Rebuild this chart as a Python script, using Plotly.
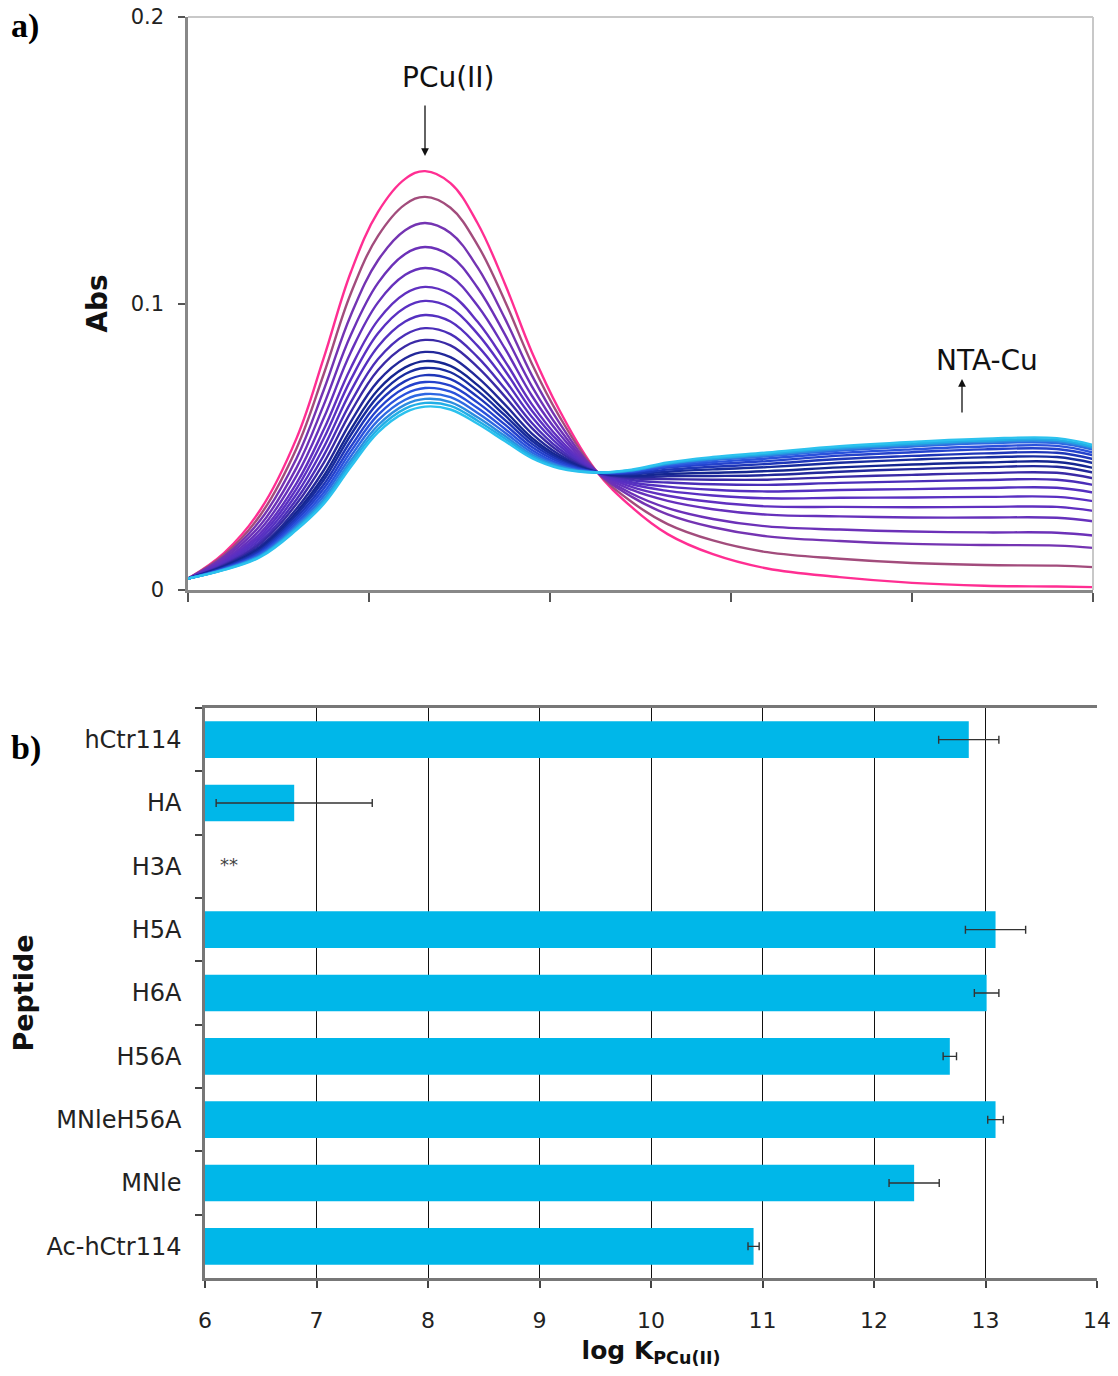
import plotly.graph_objects as go

# ---------------- Panel a: UV-vis titration spectra ----------------
wavelength = [300, 320, 340, 360, 375, 390, 405, 420, 431, 445, 460, 475,
              490, 505, 525, 545, 565, 590, 620, 660, 700, 740, 780, 800]

spectra = [
    [0.0040, 0.0130, 0.0280, 0.0530, 0.0810, 0.1110, 0.1320, 0.1435, 0.1462, 0.1420, 0.1280, 0.1070, 0.0830, 0.0630, 0.0420, 0.0290, 0.0195, 0.0125, 0.0075, 0.0045, 0.0025, 0.0015, 0.0012, 0.0010],
    [0.0040, 0.0123, 0.0262, 0.0495, 0.0754, 0.1036, 0.1236, 0.1346, 0.1372, 0.1334, 0.1204, 0.1010, 0.0790, 0.0608, 0.0419, 0.0308, 0.0230, 0.0173, 0.0132, 0.0109, 0.0094, 0.0087, 0.0085, 0.0080],
    [0.0040, 0.0117, 0.0244, 0.0460, 0.0698, 0.0960, 0.1151, 0.1256, 0.1281, 0.1246, 0.1126, 0.0949, 0.0749, 0.0585, 0.0418, 0.0326, 0.0264, 0.0219, 0.0187, 0.0171, 0.0161, 0.0157, 0.0155, 0.0147],
    [0.0040, 0.0111, 0.0227, 0.0427, 0.0646, 0.0891, 0.1072, 0.1173, 0.1197, 0.1166, 0.1055, 0.0893, 0.0711, 0.0564, 0.0417, 0.0337, 0.0286, 0.0248, 0.0222, 0.0211, 0.0204, 0.0201, 0.0200, 0.0190],
    [0.0040, 0.0105, 0.0212, 0.0399, 0.0600, 0.0831, 0.1004, 0.1100, 0.1124, 0.1095, 0.0992, 0.0844, 0.0678, 0.0546, 0.0416, 0.0350, 0.0311, 0.0282, 0.0263, 0.0257, 0.0253, 0.0253, 0.0252, 0.0240],
    [0.0040, 0.0101, 0.0199, 0.0373, 0.0560, 0.0776, 0.0942, 0.1035, 0.1058, 0.1032, 0.0936, 0.0800, 0.0648, 0.0529, 0.0415, 0.0360, 0.0329, 0.0307, 0.0292, 0.0290, 0.0289, 0.0290, 0.0290, 0.0276],
    [0.0040, 0.0097, 0.0189, 0.0354, 0.0529, 0.0735, 0.0896, 0.0986, 0.1009, 0.0985, 0.0894, 0.0767, 0.0626, 0.0517, 0.0414, 0.0369, 0.0346, 0.0330, 0.0320, 0.0322, 0.0323, 0.0325, 0.0325, 0.0310],
    [0.0040, 0.0093, 0.0179, 0.0335, 0.0498, 0.0695, 0.0850, 0.0937, 0.0960, 0.0937, 0.0852, 0.0734, 0.0604, 0.0505, 0.0414, 0.0376, 0.0361, 0.0350, 0.0344, 0.0349, 0.0352, 0.0356, 0.0357, 0.0340],
    [0.0040, 0.0090, 0.0170, 0.0317, 0.0470, 0.0656, 0.0806, 0.0891, 0.0914, 0.0893, 0.0813, 0.0703, 0.0583, 0.0493, 0.0413, 0.0384, 0.0375, 0.0369, 0.0367, 0.0374, 0.0379, 0.0384, 0.0385, 0.0367],
    [0.0040, 0.0087, 0.0162, 0.0301, 0.0444, 0.0622, 0.0768, 0.0851, 0.0873, 0.0854, 0.0778, 0.0676, 0.0565, 0.0483, 0.0413, 0.0390, 0.0387, 0.0385, 0.0385, 0.0395, 0.0402, 0.0408, 0.0409, 0.0390],
    [0.0040, 0.0084, 0.0153, 0.0284, 0.0418, 0.0588, 0.0729, 0.0809, 0.0831, 0.0813, 0.0742, 0.0648, 0.0546, 0.0473, 0.0412, 0.0395, 0.0397, 0.0398, 0.0401, 0.0413, 0.0422, 0.0429, 0.0430, 0.0410],
    [0.0040, 0.0082, 0.0147, 0.0272, 0.0398, 0.0561, 0.0699, 0.0777, 0.0799, 0.0782, 0.0715, 0.0626, 0.0531, 0.0465, 0.0412, 0.0399, 0.0405, 0.0409, 0.0415, 0.0428, 0.0438, 0.0445, 0.0447, 0.0426],
    [0.0040, 0.0080, 0.0142, 0.0263, 0.0384, 0.0542, 0.0676, 0.0754, 0.0775, 0.0760, 0.0695, 0.0610, 0.0521, 0.0459, 0.0412, 0.0404, 0.0413, 0.0421, 0.0429, 0.0444, 0.0455, 0.0463, 0.0464, 0.0443],
    [0.0040, 0.0078, 0.0137, 0.0253, 0.0368, 0.0521, 0.0653, 0.0729, 0.0750, 0.0736, 0.0674, 0.0594, 0.0510, 0.0453, 0.0411, 0.0407, 0.0420, 0.0430, 0.0440, 0.0457, 0.0468, 0.0477, 0.0479, 0.0457],
    [0.0040, 0.0076, 0.0132, 0.0244, 0.0354, 0.0501, 0.0631, 0.0706, 0.0726, 0.0713, 0.0654, 0.0578, 0.0499, 0.0447, 0.0411, 0.0411, 0.0427, 0.0439, 0.0450, 0.0469, 0.0481, 0.0491, 0.0492, 0.0470],
    [0.0040, 0.0075, 0.0128, 0.0235, 0.0340, 0.0484, 0.0611, 0.0684, 0.0705, 0.0692, 0.0635, 0.0563, 0.0489, 0.0441, 0.0411, 0.0413, 0.0432, 0.0446, 0.0459, 0.0478, 0.0491, 0.0501, 0.0503, 0.0480],
    [0.0040, 0.0073, 0.0124, 0.0227, 0.0328, 0.0467, 0.0592, 0.0664, 0.0684, 0.0673, 0.0618, 0.0550, 0.0480, 0.0436, 0.0411, 0.0416, 0.0437, 0.0453, 0.0467, 0.0487, 0.0501, 0.0512, 0.0513, 0.0490],
    [0.0040, 0.0072, 0.0120, 0.0221, 0.0317, 0.0452, 0.0575, 0.0647, 0.0667, 0.0656, 0.0603, 0.0538, 0.0472, 0.0432, 0.0410, 0.0417, 0.0440, 0.0457, 0.0471, 0.0492, 0.0506, 0.0517, 0.0519, 0.0495],
    [0.0040, 0.0071, 0.0118, 0.0215, 0.0308, 0.0441, 0.0562, 0.0633, 0.0653, 0.0643, 0.0591, 0.0529, 0.0466, 0.0428, 0.0410, 0.0418, 0.0442, 0.0460, 0.0475, 0.0497, 0.0511, 0.0522, 0.0524, 0.0500],
    [0.0040, 0.0070, 0.0115, 0.0210, 0.0300, 0.0430, 0.0550, 0.0620, 0.0640, 0.0630, 0.0580, 0.0520, 0.0460, 0.0425, 0.0410, 0.0420, 0.0445, 0.0464, 0.0480, 0.0502, 0.0517, 0.0528, 0.0530, 0.0506],
]

spectra_colors = ["#FF2E92", "#A24C7C", "#7434B2", "#6C31B8", "#6631BC", "#6030C0",
                  "#5A30C2", "#5430C0", "#4A2EB8", "#3A2AA6", "#22289A", "#152690",
                  "#182C9E", "#1E36B8", "#2442CC", "#2A52DC", "#2E68E2", "#2C8CE0",
                  "#22AEE6", "#2CC2EE"]

abs_ticks = [0, 0.1, 0.2]
abs_ticklabels = ["0", "0.1", "0.2"]

# ---------------- Panel b: binding constants ----------------
peptides = ["hCtr114", "HA", "H3A", "H5A", "H6A", "H56A", "MNleH56A", "MNle", "Ac-hCtr114"]
logK = [12.85, 6.80, None, 13.09, 13.01, 12.68, 13.09, 12.36, 10.92]
logK_err = [0.27, 0.70, None, 0.27, 0.11, 0.06, 0.07, 0.225, 0.05]
logK_ticks = [6, 7, 8, 9, 10, 11, 12, 13, 14]

# page body has an 8px margin: size the figure so it fits the window
OFF = 8
W, H = 1118 - OFF - 2, 1376 - 2 * OFF

def fx(px):
    return (px - OFF) / W

def fy(py):
    return 1 - (py - OFF) / H

fig = go.Figure()

for vals, col in zip(spectra, spectra_colors):
    fig.add_trace(go.Scatter(
        x=wavelength, y=vals, mode="lines",
        line=dict(color=col, width=2.4, shape="spline", smoothing=1.1),
        xaxis="x", yaxis="y", showlegend=False, hoverinfo="skip"))

fig.add_trace(go.Bar(
    y=peptides, x=logK, orientation="h",
    marker=dict(color="#00B7E9", line=dict(width=0)),
    width=0.58,
    error_x=dict(type="data", array=logK_err, visible=True,
                 color="#333333", thickness=1.4, width=4),
    xaxis="x2", yaxis="y2", showlegend=False))

font_main = "DejaVu Sans, Verdana, sans-serif"

fig.update_layout(
    width=W, height=H,
    margin=dict(l=0, r=0, t=0, b=0, autoexpand=False),
    paper_bgcolor="white", plot_bgcolor="white",
    font=dict(family=font_main, color="#111111"),
    xaxis=dict(domain=[fx(188), fx(1093)], range=[300, 800], dtick=100,
               tick0=300, showticklabels=False, ticks="outside", ticklen=9,
               tickwidth=1.5, tickcolor="#555555", showgrid=False,
               showline=True, linecolor="#888888", linewidth=2.5,
               zeroline=False, anchor="y", automargin=False),
    yaxis=dict(domain=[fy(590), fy(17)], range=[0, 0.2],
               tickvals=abs_ticks, ticktext=abs_ticklabels,
               ticks="outside", ticklen=7, tickwidth=1.5, tickcolor="#555555",
               tickfont=dict(size=21, color="#222222"), ticklabelstandoff=10,
               ticklabeloverflow="allow",
               showgrid=False, showline=True, linecolor="#888888",
               linewidth=2.5, zeroline=False, anchor="x", automargin=False,
               title=dict(text="<b>Abs</b>", font=dict(size=28, color="#111111"),
                          standoff=15)),
    xaxis2=dict(domain=[fx(205), fx(1097)], range=[6, 14],
                tickvals=logK_ticks, ticks="outside", ticklen=7,
                tickwidth=1.5, tickcolor="#444444",
                tickfont=dict(size=22, color="#222222"), ticklabelstandoff=14,
                ticklabeloverflow="allow",
                showgrid=True, gridcolor="#111111", gridwidth=1.2,
                showline=True, linecolor="#777777", linewidth=2.5,
                mirror=True, zeroline=False, anchor="y2", automargin=False,
                title=dict(text="<b>log K<sub>PCu(II)</sub></b>",
                           font=dict(size=25, color="#111111"), standoff=24)),
    yaxis2=dict(domain=[fy(1278), fy(708)], type="category",
                categoryorder="array", categoryarray=peptides,
                autorange="reversed", ticks="outside", tickson="boundaries",
                ticklen=7, tickwidth=1.5, tickcolor="#444444",
                tickfont=dict(size=24, color="#222222"), ticklabelstandoff=16,
                showgrid=False, showline=True, linecolor="#777777",
                linewidth=2.5, zeroline=False, anchor="x2", automargin=False,
                title=dict(text="<b>Peptide</b>", font=dict(size=27, color="#111111"),
                           standoff=18)),
)

# light grey top/right frame of panel a
fig.add_shape(type="line", xref="x domain", yref="y domain", x0=0, x1=1, y0=1, y1=1,
              line=dict(color="#C8C8C8", width=2))
fig.add_shape(type="line", xref="x domain", yref="y domain", x0=1, x1=1, y0=0, y1=1,
              line=dict(color="#C8C8C8", width=2))

annots = [
    dict(text="<b>a)</b>", x=fx(9), y=fy(26), xanchor="left", yanchor="middle",
         font=dict(family="Liberation Serif, Times New Roman, serif", size=34, color="#000")),
    dict(text="<b>b)</b>", x=fx(9), y=fy(748), xanchor="left", yanchor="middle",
         font=dict(family="Liberation Serif, Times New Roman, serif", size=34, color="#000")),
    dict(text="PCu(II)", x=fx(448), y=fy(77), xanchor="center", yanchor="middle",
         font=dict(size=28, color="#111111")),
    dict(text="NTA-Cu", x=fx(987), y=fy(361), xanchor="center", yanchor="middle",
         font=dict(size=28, color="#111111")),
    dict(text="**", x=fx(229), y=fy(864), xanchor="center", yanchor="middle",
         font=dict(size=18, color="#444444")),
]
for a in annots:
    a.update(xref="paper", yref="paper", showarrow=False)
    fig.add_annotation(**a)

# arrows (offsets in pixels)
fig.add_annotation(x=fx(425), y=fy(156), ax=0, ay=-52, xref="paper", yref="paper",
                   text="", showarrow=True,
                   arrowhead=2, arrowsize=1.2, arrowwidth=1.3, arrowcolor="#111111")
fig.add_annotation(x=fx(962), y=fy(379), ax=0, ay=35, xref="paper", yref="paper",
                   text="", showarrow=True,
                   arrowhead=2, arrowsize=1.2, arrowwidth=1.3, arrowcolor="#111111")

fig.write_html("out.html")
